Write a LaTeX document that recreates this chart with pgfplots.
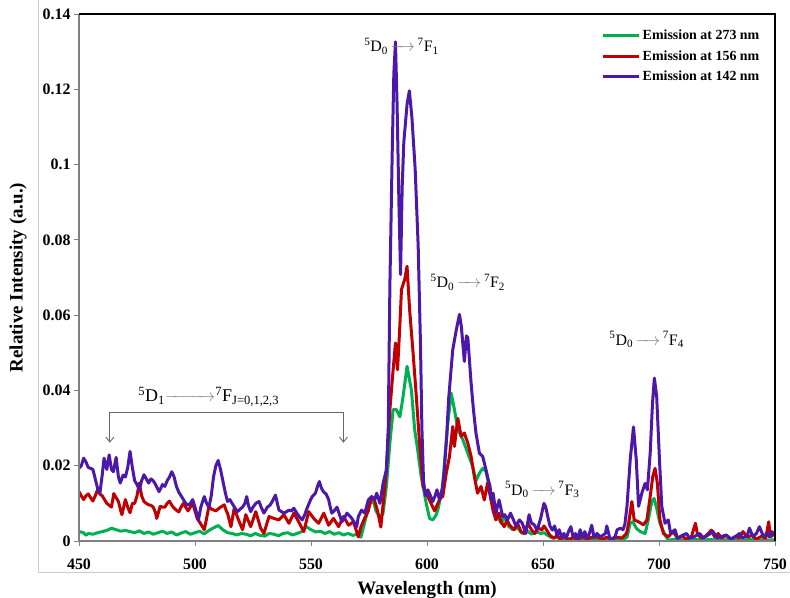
\documentclass[border=0pt]{standalone}
\usepackage{pgfplots}
\pgfplotsset{compat=1.18}
\usepackage{amsmath}
\usepackage{fontspec}
\setmainfont{Liberation Serif}
\usetikzlibrary{arrows.meta}
\definecolor{cgreen}{RGB}{0,176,80}
\definecolor{cred}{RGB}{192,0,0}
\definecolor{cblue}{RGB}{76,24,170}
\definecolor{axgray}{RGB}{128,128,128}
\newcommand{\garrow}[1]{\textcolor{axgray}{$\xrightarrow{\hspace{#1}}$}}
\newcommand{\trans}[3]{\textsuperscript{5}D\textsubscript{#1}\,\garrow{#3}\,\textsuperscript{7}F\textsubscript{#2}}

\pgfplotstableread{
x y
450 0.0025
452 0.0022
453 0.0015
454 0.0020
456 0.0018
458 0.0022
460 0.0025
462 0.0028
464 0.0034
466 0.0030
468 0.0026
470 0.0028
472 0.0025
474 0.0022
476 0.0027
478 0.0020
480 0.0024
482 0.0018
484 0.0022
486 0.0026
488 0.0020
490 0.0024
492 0.0016
494 0.0021
496 0.0025
498 0.0018
500 0.0022
502 0.0026
504 0.0019
506 0.0028
508 0.0035
510 0.0041
512 0.0030
514 0.0022
516 0.0020
518 0.0016
520 0.0020
522 0.0018
524 0.0014
526 0.0020
528 0.0015
530 0.0013
532 0.0020
534 0.0018
536 0.0014
538 0.0020
540 0.0022
542 0.0016
544 0.0020
546 0.0025
548 0.0038
550 0.0030
552 0.0024
554 0.0026
556 0.0020
558 0.0025
560 0.0018
562 0.0022
564 0.0016
566 0.0020
568 0.0015
570 0.0018
571.5 0.0010
573 0.0046
574 0.0070
575.4 0.0099
576.8 0.0108
578 0.0080
579.7 0.0063
581 0.0072
582.5 0.0145
584 0.0260
585.4 0.0349
586.8 0.0349
588.3 0.0330
589.7 0.0384
591.4 0.0464
593.3 0.0400
594.7 0.0295
595.8 0.0250
597.5 0.0171
599.7 0.0099
601.1 0.0060
602.5 0.0056
604 0.0070
604.7 0.0083
606.8 0.0145
607.6 0.0215
609 0.0313
610.4 0.0393
611.8 0.0350
613.3 0.0296
615.4 0.0270
617.6 0.0233
619.7 0.0198
621.1 0.0160
622.6 0.0180
624 0.0193
625.4 0.0185
626.8 0.0145
628.3 0.0091
630.4 0.0065
632 0.0047
633.5 0.0065
635 0.0040
637 0.0030
639 0.0035
641 0.0020
643 0.0028
645 0.0018
647 0.0025
649 0.0020
650.5 0.0022
652 0.0015
654 0.0008
656 0.0010
658 0.0003
660 0.0008
663 0.0002
666 0.0006
669 0.0002
672 0.0005
675 0.0002
678 0.0004
681 0.0001
684 0.0003
686.2 0.0010
687.6 0.0047
688.7 0.0051
690.2 0.0034
691.9 0.0025
694 0.0020
695.4 0.0056
696.9 0.0105
697.9 0.0113
699 0.0087
700.4 0.0047
702.6 0.0016
704 0.0002
707 0.0005
710 0.0002
714 0.0006
718 0.0002
722 0.0004
726 0.0001
730 0.0004
735 0.0002
740 0.0004
745 0.0002
750 0.0003
}\greendata

\pgfplotstableread{
x y
450 0.0131
451 0.0120
452 0.0110
453 0.0120
454 0.0125
455 0.0115
456 0.0106
457 0.0120
458 0.0136
459 0.0125
460 0.0120
461 0.0110
462 0.0100
463 0.0095
464 0.0090
465 0.0126
466 0.0115
467 0.0105
468 0.0080
468.5 0.0070
470 0.0110
471 0.0090
472 0.0075
473 0.0100
474 0.0100
475 0.0120
476 0.0154
477 0.0120
478 0.0105
479 0.0100
480 0.0096
481 0.0095
482 0.0090
483 0.0075
483.5 0.0060
485 0.0092
486 0.0090
487 0.0090
488 0.0100
489 0.0106
490 0.0095
491 0.0087
492 0.0082
493 0.0077
494 0.0090
495 0.0100
496 0.0090
497 0.0080
498 0.0090
499 0.0100
500 0.0080
501 0.0059
502 0.0050
504 0.0030
505 0.0060
506 0.0092
507 0.0085
509 0.0080
510 0.0085
511 0.0090
512.6 0.0096
513.5 0.0080
514 0.0074
515.5 0.0038
516.9 0.0087
518.5 0.0060
520.5 0.0030
521.9 0.0070
524 0.0038
526.2 0.0078
528.3 0.0034
529.7 0.0020
531.9 0.0065
534 0.0060
536.2 0.0056
538.3 0.0070
540.5 0.0047
542.6 0.0074
544.7 0.0051
546.9 0.0025
549 0.0078
551.2 0.0060
553.3 0.0047
555.5 0.0074
557.6 0.0042
559.7 0.0060
561.9 0.0038
564 0.0065
566.2 0.0042
568.3 0.0051
570.4 0.0011
571.5 0.0037
573.3 0.0063
574.7 0.0080
576.1 0.0118
577.3 0.0110
578.7 0.0080
580.1 0.0037
581.1 0.0099
582.5 0.0189
584 0.0349
585.4 0.0455
586.4 0.0526
587.3 0.0455
588.2 0.0560
589 0.0668
590.4 0.0695
591.4 0.0730
592.5 0.0615
594 0.0500
595.4 0.0384
596.8 0.0260
598.3 0.0145
600.4 0.0118
601.8 0.0099
603.3 0.0080
604.7 0.0100
605.8 0.0115
606.8 0.0118
608.3 0.0180
609.7 0.0225
611.1 0.0304
611.8 0.0251
613.3 0.0326
614.7 0.0278
616.1 0.0287
617.6 0.0260
619 0.0225
620.4 0.0171
621.8 0.0127
623.3 0.0145
624.7 0.0109
626.1 0.0154
627.6 0.0109
628.5 0.0080
629.7 0.0056
631 0.0074
631.9 0.0051
633.3 0.0038
634.5 0.0056
635.5 0.0043
637.6 0.0030
639 0.0047
640.5 0.0025
642 0.0020
643.5 0.0047
645 0.0030
646.5 0.0020
648 0.0035
649.5 0.0029
650.4 0.0040
651.5 0.0030
653 0.0015
654.8 0.0007
656 0.0015
657.5 0.0005
659 0.0012
661 0.0003
663 0.0010
665 0.0004
667 0.0012
669 0.0005
671 0.0010
673.3 0.0011
675.5 0.0005
677.5 0.0010
679.5 0.0005
681.8 0.0010
684 0.0008
686 0.0020
686.9 0.0047
688.3 0.0105
689.3 0.0056
691.2 0.0051
693.3 0.0043
694.8 0.0056
696.2 0.0118
697.3 0.0171
698.3 0.0193
699.3 0.0153
700.4 0.0056
701.9 0.0020
704 0.0011
706 0.0025
708 0.0008
710 0.0012
712 0.0005
714 0.0012
715.7 0.0047
716.5 0.0020
718 0.0008
720 0.0012
722.6 0.0029
724 0.0010
725.5 0.0020
727 0.0008
729 0.0015
731 0.0005
733 0.0012
734.5 0.0008
736.2 0.0025
738 0.0010
740 0.0015
742 0.0005
744 0.0012
746 0.0008
747.3 0.0051
748 0.0011
749 0.0015
750 0.0020
}\reddata

\pgfplotstableread{
x y
450 0.0193
451 0.0200
452 0.0220
453 0.0210
454 0.0195
455 0.0193
456 0.0190
457 0.0165
458 0.0140
459 0.0127
460 0.0175
460.8 0.0220
462 0.0190
463 0.0229
464 0.0190
464.8 0.0184
466 0.0222
467 0.0170
467.8 0.0154
469 0.0175
470 0.0170
471 0.0195
472 0.0238
473 0.0195
474 0.0160
475 0.0150
476 0.0136
477 0.0160
478 0.0176
479 0.0165
480 0.0154
481 0.0165
482 0.0160
483 0.0150
484.5 0.0131
486 0.0150
487 0.0145
488 0.0160
489 0.0170
490 0.0184
491 0.0170
492 0.0145
493 0.0130
494 0.0120
495 0.0110
496 0.0100
497 0.0095
498 0.0100
499 0.0110
500 0.0090
501.5 0.0056
502.5 0.0090
504 0.0118
505 0.0100
506 0.0090
507 0.0120
508 0.0171
509 0.0200
510 0.0214
511 0.0190
512 0.0160
513 0.0130
514 0.0105
515 0.0110
516 0.0100
517 0.0090
518.3 0.0078
519.5 0.0085
520.5 0.0090
521.5 0.0100
522.3 0.0118
523 0.0095
524 0.0078
525 0.0090
526.2 0.0100
527.6 0.0105
528.5 0.0090
529.7 0.0074
531.2 0.0090
532.3 0.0095
533.3 0.0105
534.7 0.0122
535.5 0.0100
536.2 0.0082
537.3 0.0078
538.3 0.0074
539.5 0.0078
540.5 0.0082
541.5 0.0080
542.6 0.0087
543.5 0.0078
544.3 0.0070
545.3 0.0062
546.2 0.0056
547.3 0.0070
548.3 0.0087
549.5 0.0105
550.5 0.0118
551.9 0.0127
552.8 0.0145
553.6 0.0158
554.5 0.0140
555.5 0.0130
556.5 0.0125
557.6 0.0110
558.3 0.0090
559 0.0074
560 0.0080
561.2 0.0090
562.3 0.0070
563.3 0.0051
564.5 0.0062
565.5 0.0074
566.5 0.0068
567.6 0.0060
568.6 0.0050
569.7 0.0038
570.4 0.0065
571.2 0.0075
571.8 0.0082
573.2 0.0074
574.7 0.0109
576.1 0.0118
577.5 0.0110
578.3 0.0127
579.7 0.0100
581.1 0.0154
582.5 0.0189
583.3 0.0300
584 0.0677
585 0.1030
585.7 0.1240
586.4 0.1326
587.1 0.1160
587.9 0.0897
588.6 0.0708
589.3 0.0940
590 0.1059
591.4 0.1160
592.4 0.1196
593.5 0.1125
594.9 0.0988
596.2 0.0783
597.2 0.0520
597.8 0.0300
598.5 0.0160
599.3 0.0120
600.4 0.0136
601.5 0.0120
602.5 0.0105
603.5 0.0120
604.3 0.0136
605.4 0.0109
606.5 0.0136
607.5 0.0190
608.5 0.0280
609.3 0.0375
610.3 0.0450
611.1 0.0508
612.6 0.0560
614 0.0602
614.8 0.0570
615.5 0.0520
616.1 0.0477
617 0.0545
617.6 0.0540
618.3 0.0480
619 0.0420
620 0.0350
621.1 0.0287
622.6 0.0233
624 0.0225
625.4 0.0190
626.5 0.0160
627.2 0.0145
627.6 0.0109
628.5 0.0127
629.7 0.0074
630.5 0.0095
631.1 0.0109
632.6 0.0065
633.5 0.0070
634.7 0.0056
636 0.0074
637.6 0.0051
638.3 0.0040
639.8 0.0056
641 0.0048
642.6 0.0020
644 0.0070
645 0.0048
646.2 0.0043
647.3 0.0030
648 0.0040
649 0.0060
650.4 0.0100
651.2 0.0090
651.9 0.0069
653 0.0040
654 0.0029
655 0.0040
656 0.0015
657 0.0030
658 0.0010
659 0.0020
660 0.0008
661 0.0025
662 0.0038
663 0.0010
664 0.0020
665 0.0005
666 0.0030
667 0.0010
668 0.0025
669 0.0008
670 0.0020
671 0.0042
672 0.0010
673.3 0.0020
674.7 0.0011
676.9 0.0020
677.5 0.0040
679 0.0003
681 0.0011
682 0.0030
683.3 0.0034
684.5 0.0030
685.3 0.0045
686.2 0.0092
687.6 0.0216
689 0.0303
690.2 0.0216
691.2 0.0092
692.6 0.0127
694 0.0153
695 0.0136
696.2 0.0233
697.2 0.0366
698 0.0433
699 0.0384
700.2 0.0216
701.2 0.0092
702.6 0.0047
704 0.0056
705 0.0020
706.9 0.0030
708 0.0007
710 0.0015
711.9 0.0020
713 0.0008
715 0.0011
717.6 0.0020
719 0.0008
721 0.0015
723.3 0.0025
725 0.0008
727 0.0012
729 0.0016
731 0.0005
733 0.0012
734.7 0.0020
736 0.0008
738 0.0015
739 0.0034
740.5 0.0012
742 0.0020
743.3 0.0038
745 0.0012
746.5 0.0020
747.6 0.0011
748.5 0.0025
749.7 0.0020
750 0.0015
}\bluedata

\begin{document}
\begin{tikzpicture}
\begin{axis}[
  scale only axis, width=696bp, height=527bp,
  xmin=450, xmax=750, ymin=0, ymax=0.14,
  xtick={450,500,550,600,650,700,750},
  ytick={0,0.02,0.04,0.06,0.08,0.1,0.12,0.14},
  axis line style={draw=none},
  tick align=outside, xtick pos=left, ytick pos=left,
  major tick length=5bp, tick style={axgray, line width=0.8pt},
  /pgf/number format/assume math mode=true,
  yticklabel style={/pgf/number format/fixed, /pgf/number format/precision=2},
  xticklabel style={yshift=-9bp},
  scaled y ticks=false,
  ticklabel style={font=\bfseries\fontsize{16}{19}\selectfont},
  xlabel={Wavelength (nm)}, ylabel={Relative Intensity (a.u.)},
  label style={font=\bfseries\fontsize{19}{22}\selectfont},
  xlabel style={at={(axis description cs:0.5,-0.0935)}, anchor=center},
  ylabel style={at={(axis description cs:-0.0876,0.5)}, anchor=center},
  clip mode=individual,
  legend style={at={(rel axis cs:0.985,0.977)}, anchor=north east, draw=none, fill=none,
    font=\bfseries\fontsize{14}{16}\selectfont, row sep=5bp},
  legend cell align=left,
  legend image code/.code={\draw[#1, line width=3bp] (0bp,0bp) -- (36bp,0bp);},
]
\addplot[cgreen, line width=3bp, line join=round] table {\greendata};
\addlegendentry{Emission at 273 nm}
\addplot[cred, line width=3bp, line join=round] table {\reddata};
\addlegendentry{Emission at 156 nm}
\addplot[cblue, line width=3bp, line join=round] table {\bluedata};
\addlegendentry{Emission at 142 nm}

\draw[axgray, line width=1.6bp] (rel axis cs:0,1) -- (rel axis cs:0,0) -- (rel axis cs:1,0);
\draw[black, line width=1.6bp] (rel axis cs:0,1) -- (rel axis cs:1,1) -- (rel axis cs:1,0);

\node[font=\fontsize{16}{19}\selectfont] at (axis cs:589,0.1315) {\trans{0}{1}{1em}};
\node[font=\fontsize{16}{19}\selectfont] at (axis cs:617.6,0.0687) {\trans{0}{2}{1em}};
\node[font=\fontsize{16}{19}\selectfont] at (axis cs:649.7,0.0136) {\trans{0}{3}{1em}};
\node[font=\fontsize{16}{19}\selectfont] at (axis cs:694.7,0.0535) {\trans{0}{4}{1em}};
\node[font=\fontsize{18}{21}\selectfont, anchor=west, inner sep=0pt] at (axis cs:475.5,0.0383) {\textsuperscript{5}D\textsubscript{1}\garrow{2.3em}\textsuperscript{7}F\textsubscript{J=0,1,2,3}};
\draw[axgray!80!black, line width=0.9pt, {Straight Barb[length=5bp,width=8bp]}-{Straight Barb[length=5bp,width=8bp]}]
  (axis cs:463.3,0.0261) |- (axis cs:564,0.0341) -- (axis cs:564,0.0261);

\coordinate (BL) at (rel axis cs:0,0);
\coordinate (TR) at (rel axis cs:1,1);
\coordinate (F1) at (rel axis cs:-0.059,1.05);
\coordinate (F2) at (rel axis cs:-0.059,-0.0588);
\coordinate (F3) at (rel axis cs:1.05,-0.0588);
\end{axis}
\draw[black!20, line width=0.8pt] (F1) -- (F2) -- (F3);
\pgfresetboundingbox
\path[use as bounding box] ([shift={(-79bp,-57bp)}]BL) rectangle ([shift={(15bp,14bp)}]TR);
\end{tikzpicture}
\end{document}
